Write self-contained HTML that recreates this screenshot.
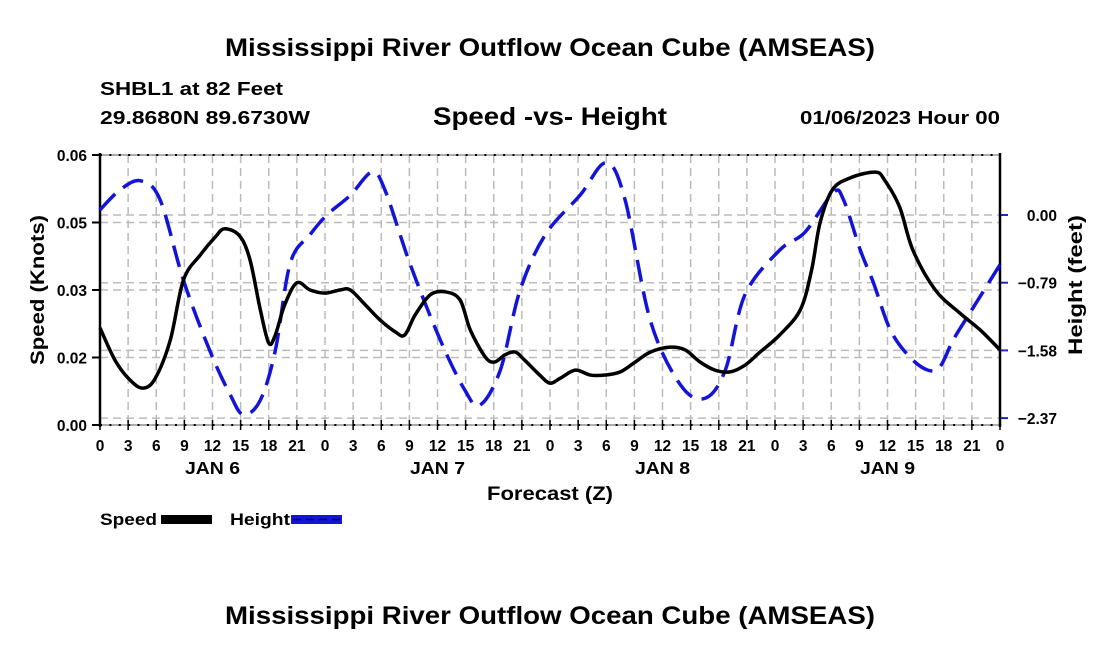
<!DOCTYPE html>
<html><head><meta charset="utf-8"><style>
body{margin:0;background:#fff;}
svg{display:block;font-family:"Liberation Sans",Arial,sans-serif;font-weight:bold;}
</style></head><body>
<svg id="chart" width="1100" height="650">
<text x="225" y="56" font-size="25" textLength="650" lengthAdjust="spacingAndGlyphs">Mississippi River Outflow Ocean Cube (AMSEAS)</text>
<text x="100" y="95" font-size="18" textLength="183" lengthAdjust="spacingAndGlyphs">SHBL1 at 82 Feet</text>
<text x="100" y="124" font-size="18" textLength="210" lengthAdjust="spacingAndGlyphs">29.8680N  89.6730W</text>
<text x="433" y="125" font-size="25" textLength="234" lengthAdjust="spacingAndGlyphs">Speed -vs- Height</text>
<text x="800" y="124" font-size="18" textLength="200" lengthAdjust="spacingAndGlyphs">01/06/2023 Hour 00</text>
<g id="grid"></g>
<g id="axes"></g>
<g id="series"></g>
<text x="487" y="500" font-size="19" textLength="126" lengthAdjust="spacingAndGlyphs">Forecast (Z)</text>
<text transform="translate(44,365) rotate(-90)" font-size="19" textLength="150" lengthAdjust="spacingAndGlyphs">Speed (Knots)</text>
<text transform="translate(1082,355) rotate(-90)" font-size="19" textLength="140" lengthAdjust="spacingAndGlyphs">Height (feet)</text>
<g>
<text x="100" y="525" font-size="17" textLength="57" lengthAdjust="spacingAndGlyphs">Speed</text>
<rect x="161" y="515" width="51" height="9" fill="#000"/>
<text x="230" y="525" font-size="17" textLength="60" lengthAdjust="spacingAndGlyphs">Height</text>
<rect x="291" y="515" width="51" height="9" fill="#1414d8"/>
<line x1="293" y1="519.5" x2="341" y2="519.5" stroke="#000060" stroke-width="1.5" stroke-dasharray="8,5"/>
</g>
<text x="225" y="624" font-size="25" textLength="650" lengthAdjust="spacingAndGlyphs">Mississippi River Outflow Ocean Cube (AMSEAS)</text>
</svg>
<script>
const speedHours=[0,1.6,3.2,4.6,5.9,7.5,8.9,10.7,12.3,13.3,14.9,16.0,17.1,18.0,18.7,19.7,21.0,22.4,24.0,25.6,26.7,28.3,29.9,31.5,32.5,33.6,35.2,36.8,38.4,39.5,41.1,42.1,43.2,44.3,45.3,46.9,48.0,49.1,50.7,52.3,53.9,55.5,57.1,58.7,60.8,62.4,64.0,65.6,67.2,68.8,70.4,72.5,74.7,75.9,76.8,78.1,80.0,82.7,83.7,85.3,86.7,89.1,91.7,93.9,96];
const speedValues=[0.0216,0.0144,0.0100,0.0082,0.0104,0.0189,0.0322,0.0378,0.0418,0.0436,0.0420,0.0367,0.0256,0.0182,0.0200,0.0267,0.0316,0.0300,0.0293,0.0300,0.0300,0.0267,0.0233,0.0207,0.0200,0.0244,0.0289,0.0296,0.0278,0.0211,0.0151,0.0140,0.0156,0.0162,0.0144,0.0111,0.0093,0.0104,0.0122,0.0111,0.0111,0.0118,0.0140,0.0162,0.0173,0.0167,0.0140,0.0122,0.0118,0.0133,0.0162,0.0200,0.0256,0.0344,0.0449,0.0522,0.0549,0.0562,0.0544,0.0484,0.0389,0.0300,0.0249,0.0211,0.0167];
const heightHours=[0,2.1,4.3,6.4,8.9,11.7,13.9,15.3,17.1,18.7,20.3,22.4,24.2,26.7,29.0,30.4,33.1,36.3,38.9,40.5,42.7,44.8,47.5,51.2,54.0,56.0,58.7,61.9,64.5,66.7,68.8,72.5,75.2,78.2,79.3,81.1,82.5,84.3,86.4,88.3,89.6,91.0,92.8,96];
const heightValues=[0.06,0.29,0.40,0.18,-0.76,-1.58,-2.10,-2.33,-2.16,-1.58,-0.56,-0.23,0.00,0.23,0.50,0.29,-0.58,-1.46,-2.04,-2.22,-1.81,-0.88,-0.23,0.23,0.61,0.18,-1.23,-1.98,-2.14,-1.81,-0.93,-0.41,-0.20,0.26,0.18,-0.41,-0.79,-1.34,-1.66,-1.81,-1.77,-1.46,-1.14,-0.58];
const leftTicks=[0,0.015,0.03,0.045,0.06];
const leftTickLabels=["0.00","0.02","0.03","0.05","0.06"];
const rightTicks=[0,-0.79,-1.58,-2.37];
const rightTickLabels=["0.00","\u22120.79","\u22121.58","\u22122.37"];
const hourLabels=["0","3","6","9","12","15","18","21"];
const dayLabels=["JAN 6","JAN 7","JAN 8","JAN 9"];

const NS="http://www.w3.org/2000/svg";
const X0=100,X1=1000,YT=155,YB=425;
const xS=h=>X0+h*(X1-X0)/96;
const yL=v=>YB-(v/0.06)*(YB-YT);
const yR=v=>215-v*(67.7/0.79);
function mk(tag,attrs,parent){const e=document.createElementNS(NS,tag);for(const k in attrs)e.setAttribute(k,attrs[k]);parent.appendChild(e);return e;}
const grid=document.getElementById('grid'),axes=document.getElementById('axes'),series=document.getElementById('series');
for(let i=1;i<32;i++){const l=mk('line',{x1:xS(i*3),x2:xS(i*3),y1:YT,y2:YB,stroke:'#bbb','stroke-width':1.5,'stroke-dasharray':'8,5'},grid);

}
leftTicks.forEach((v,i)=>{const l=mk('line',{x1:X0,x2:X1,y1:yL(v),y2:yL(v),stroke:'#bbb','stroke-width':1.5,'stroke-dasharray':'8,5'},grid);


const t=mk('text',{x:X0-13,y:yL(v)+6,'text-anchor':'end','font-size':15.5},axes);t.textContent=leftTickLabels[i];


mk('line',{x1:X0-8,x2:X0,y1:yL(v),y2:yL(v),stroke:'#000','stroke-width':2},axes);});
rightTicks.forEach((v,i)=>{const l=mk('line',{x1:X0,x2:X1,y1:yR(v),y2:yR(v),stroke:'#bbb','stroke-width':1.5,'stroke-dasharray':'8,5'},grid);


mk('line',{x1:X1,x2:X1+8,y1:yR(v),y2:yR(v),stroke:'#22c','stroke-width':2},axes);
const t=mk('text',{x:1057,y:yR(v)+6,'text-anchor':'end','font-size':15.5},axes);t.textContent=rightTickLabels[i];

});
mk('line',{x1:X0,x2:X1,y1:YT,y2:YT,stroke:'#999','stroke-width':1.5},axes);
mk('line',{x1:X0,x2:X1,y1:YB,y2:YB,stroke:'#999','stroke-width':1.5},axes);
mk('line',{x1:X0,x2:X1,y1:YT,y2:YT,stroke:'#000','stroke-width':2,'stroke-dasharray':'2,7.375'},axes);
mk('line',{x1:X0,x2:X1,y1:YB,y2:YB,stroke:'#000','stroke-width':2,'stroke-dasharray':'2,7.375'},axes);
mk('line',{x1:X0,x2:X0,y1:YT-2,y2:YB+2,stroke:'#000','stroke-width':2.5},axes);
mk('line',{x1:X1,x2:X1,y1:YT-2,y2:YB+2,stroke:'#000','stroke-width':2.5},axes);
for(let i=0;i<=32;i++){mk('line',{x1:xS(i*3),x2:xS(i*3),y1:YB-5,y2:YB+5,stroke:'#000','stroke-width':1.5},axes);
const t=mk('text',{x:xS(i*3),y:451,'text-anchor':'middle','font-size':15.5},axes);t.textContent=hourLabels[i%8];

}
dayLabels.forEach((d,i)=>{const t=mk('text',{x:xS(12+24*i),y:474,'text-anchor':'middle','font-size':17.5,textLength:55,lengthAdjust:'spacingAndGlyphs'},axes);t.textContent=d;

});
function path(hs,vs,ys){const p=hs.map((h,i)=>[xS(h),ys(vs[i])]);let d='M'+p[0][0]+','+p[0][1];
for(let i=0;i<p.length-1;i++){const p0=p[Math.max(0,i-1)],p1=p[i],p2=p[i+1],p3=p[Math.min(p.length-1,i+2)];
d+=' C'+(p1[0]+(p2[0]-p0[0])/6)+','+(p1[1]+(p2[1]-p0[1])/6)+' '+(p2[0]-(p3[0]-p1[0])/6)+','+(p2[1]-(p3[1]-p1[1])/6)+' '+p2[0]+','+p2[1];}return d;}
const hp=mk('path',{d:path(heightHours,heightValues,yR),fill:'none',stroke:'#1414d8','stroke-width':3.5,'stroke-dasharray':'22,10'},series);


const sp=mk('path',{d:path(speedHours,speedValues,yL),fill:'none',stroke:'#000','stroke-width':3.5},series);


</script>
</body></html>
